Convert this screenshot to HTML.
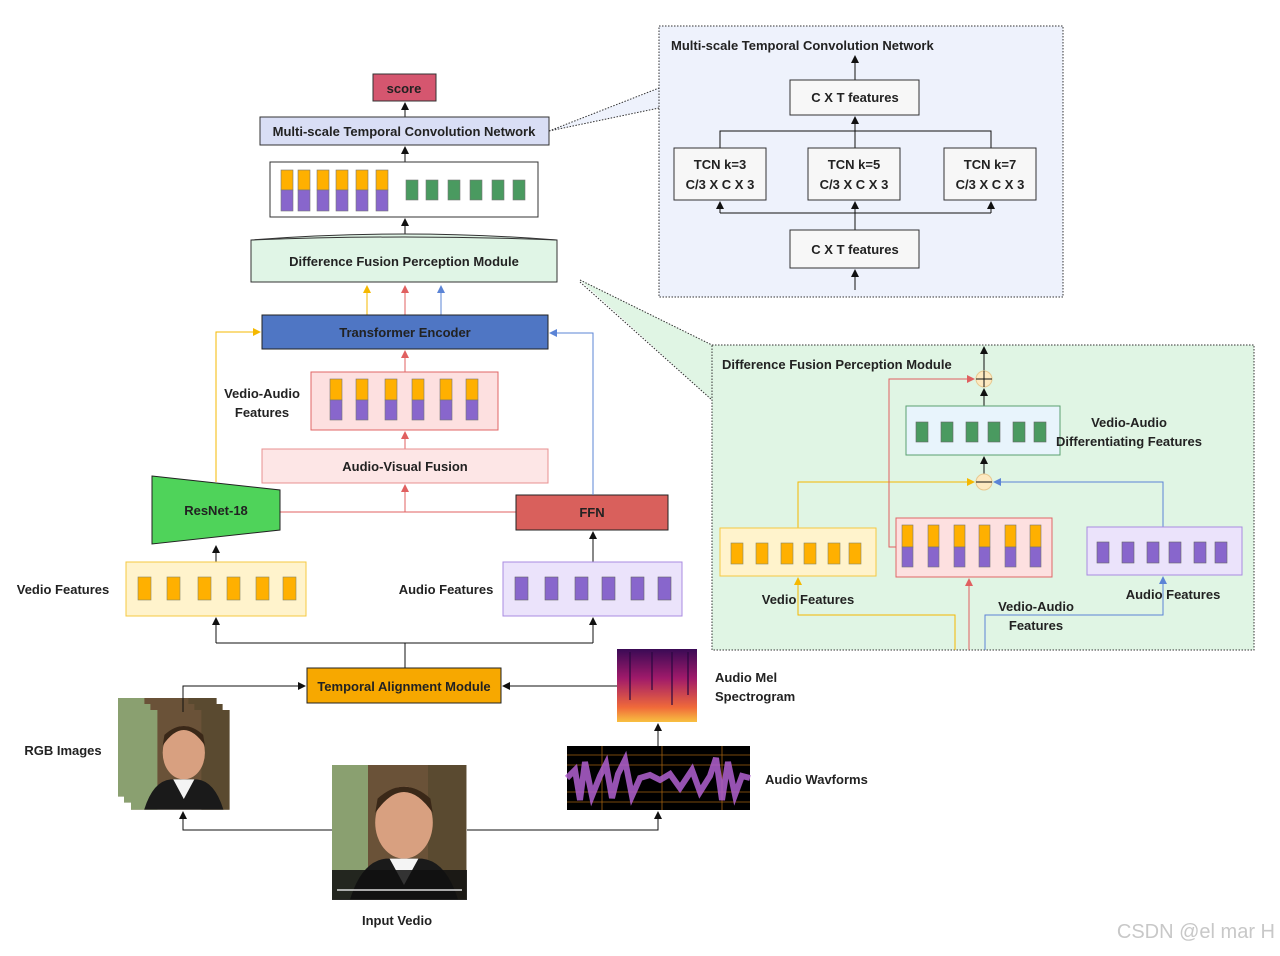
<!DOCTYPE html>
<html><head><meta charset="utf-8"><style>
body{margin:0;background:#fff}
svg text{font-family:"Liberation Sans",sans-serif;font-weight:bold;font-size:13px;fill:#222}
</style></head><body>
<svg width="1280" height="951" viewBox="0 0 1280 951" xmlns="http://www.w3.org/2000/svg">
<defs>
<marker id="ak" markerWidth="8" markerHeight="8" refX="7" refY="4" orient="auto" markerUnits="userSpaceOnUse"><path d="M0,0 L8,4 L0,8 z" fill="#111"/></marker>
<marker id="ay" markerWidth="8" markerHeight="8" refX="7" refY="4" orient="auto" markerUnits="userSpaceOnUse"><path d="M0,0 L8,4 L0,8 z" fill="#f5b800"/></marker>
<marker id="ar" markerWidth="8" markerHeight="8" refX="7" refY="4" orient="auto" markerUnits="userSpaceOnUse"><path d="M0,0 L8,4 L0,8 z" fill="#e06060"/></marker>
<marker id="ab" markerWidth="8" markerHeight="8" refX="7" refY="4" orient="auto" markerUnits="userSpaceOnUse"><path d="M0,0 L8,4 L0,8 z" fill="#5b84d6"/></marker>
<linearGradient id="spec" x1="0" y1="0" x2="0" y2="1"><stop offset="0" stop-color="#3a0a55"/><stop offset="0.4" stop-color="#a01a6a"/><stop offset="0.8" stop-color="#f06a3a"/><stop offset="1" stop-color="#f8c040"/></linearGradient>
<g id="photo">
<rect width="112" height="112" fill="#6a5238"/>
<rect width="30" height="112" fill="#8aa070"/>
<rect x="80" width="32" height="112" fill="#5a4a30"/>
<ellipse cx="60" cy="48" rx="24" ry="30" fill="#d8a080"/>
<path d="M36,40 Q60,5 84,40 L82,28 Q60,8 38,28 z" fill="#3a2818"/>
<path d="M15,112 Q25,80 45,78 L75,78 Q95,80 105,112 z" fill="#1a1a1a"/>
<path d="M48,78 L60,100 L72,78 z" fill="#f4f4f4"/>
</g>
</defs>

<rect x="373" y="74" width="63" height="27" fill="#d5566f" stroke="#333"/>
<text x="404" y="93" text-anchor="middle">score</text>
<line x1="405" y1="117" x2="405" y2="103" stroke="#111" marker-end="url(#ak)"/>
<rect x="260" y="117" width="289" height="28" fill="#d9def5" stroke="#333"/>
<text x="404" y="136" text-anchor="middle">Multi-scale Temporal Convolution Network</text>
<line x1="405" y1="162" x2="405" y2="147" stroke="#111" marker-end="url(#ak)"/>
<rect x="270" y="162" width="268" height="55" fill="#fff" stroke="#333"/>
<g stroke="#777" stroke-width="0.6">
<g fill="#ffb000"><rect x="281" y="170" width="12" height="20"/><rect x="298" y="170" width="12" height="20"/><rect x="317" y="170" width="12" height="20"/><rect x="336" y="170" width="12" height="20"/><rect x="356" y="170" width="12" height="20"/><rect x="376" y="170" width="12" height="20"/></g>
<g fill="#8866cc"><rect x="281" y="190" width="12" height="21"/><rect x="298" y="190" width="12" height="21"/><rect x="317" y="190" width="12" height="21"/><rect x="336" y="190" width="12" height="21"/><rect x="356" y="190" width="12" height="21"/><rect x="376" y="190" width="12" height="21"/></g>
<g fill="#4a9a60"><rect x="406" y="180" width="12" height="20"/><rect x="426" y="180" width="12" height="20"/><rect x="448" y="180" width="12" height="20"/><rect x="470" y="180" width="12" height="20"/><rect x="492" y="180" width="12" height="20"/><rect x="513" y="180" width="12" height="20"/></g>
</g>
<line x1="405" y1="236" x2="405" y2="219" stroke="#111" marker-end="url(#ak)"/>
<path d="M251,240 Q404,228 557,240 L557,282 L251,282 z" fill="#e0f5e6" stroke="#333"/>
<path d="M251,240 Q404,234 557,240" fill="none" stroke="#333"/>
<text x="404" y="266" text-anchor="middle">Difference Fusion Perception Module</text>
<line x1="367" y1="315" x2="367" y2="286" stroke="#f5b800" marker-end="url(#ay)"/>
<line x1="405" y1="315" x2="405" y2="286" stroke="#e06060" marker-end="url(#ar)"/>
<line x1="441" y1="315" x2="441" y2="286" stroke="#5b84d6" marker-end="url(#ab)"/>
<rect x="262" y="315" width="286" height="34" fill="#4f76c4" stroke="#222"/>
<text x="405" y="337" text-anchor="middle">Transformer Encoder</text>
<line x1="405" y1="372" x2="405" y2="351" stroke="#e06060" marker-end="url(#ar)"/>
<text x="262" y="398" text-anchor="middle">Vedio-Audio</text>
<text x="262" y="417" text-anchor="middle">Features</text>
<rect x="311" y="372" width="187" height="58" fill="#fde0e0" stroke="#e06666"/>
<g stroke="#777" stroke-width="0.6">
<g fill="#ffb000"><rect x="330" y="379" width="12" height="21"/><rect x="356" y="379" width="12" height="21"/><rect x="385" y="379" width="12" height="21"/><rect x="412" y="379" width="12" height="21"/><rect x="440" y="379" width="12" height="21"/><rect x="466" y="379" width="12" height="21"/></g>
<g fill="#8866cc"><rect x="330" y="400" width="12" height="20"/><rect x="356" y="400" width="12" height="20"/><rect x="385" y="400" width="12" height="20"/><rect x="412" y="400" width="12" height="20"/><rect x="440" y="400" width="12" height="20"/><rect x="466" y="400" width="12" height="20"/></g>
</g>
<line x1="405" y1="449" x2="405" y2="432" stroke="#e06060" marker-end="url(#ar)"/>
<rect x="262" y="449" width="286" height="34" fill="#fde6e6" stroke="#e89090"/>
<text x="405" y="471" text-anchor="middle">Audio-Visual Fusion</text>
<polyline points="280,512 516,512" fill="none" stroke="#e06060"/>
<line x1="405" y1="512" x2="405" y2="485" stroke="#e06060" marker-end="url(#ar)"/>
<polygon points="152,476 280,490 280,530 152,544" fill="#4fd35a" stroke="#222"/>
<text x="216" y="515" text-anchor="middle">ResNet-18</text>
<rect x="516" y="495" width="152" height="35" fill="#d9605c" stroke="#222"/>
<text x="592" y="517" text-anchor="middle">FFN</text>
<polyline points="216,482 216,332 260,332" fill="none" stroke="#f5b800" marker-end="url(#ay)"/>
<polyline points="593,495 593,333 550,333" fill="none" stroke="#5b84d6" marker-end="url(#ab)"/>
<line x1="216" y1="562" x2="216" y2="546" stroke="#111" marker-end="url(#ak)"/>
<line x1="593" y1="562" x2="593" y2="532" stroke="#111" marker-end="url(#ak)"/>
<text x="63" y="594" text-anchor="middle">Vedio Features</text>
<rect x="126" y="562" width="180" height="54" fill="#fff3cc" stroke="#f5c842"/>
<g fill="#ffb000" stroke="#886" stroke-width="0.6"><rect x="138" y="577" width="13" height="23"/><rect x="167" y="577" width="13" height="23"/><rect x="198" y="577" width="13" height="23"/><rect x="227" y="577" width="13" height="23"/><rect x="256" y="577" width="13" height="23"/><rect x="283" y="577" width="13" height="23"/></g>
<text x="446" y="594" text-anchor="middle">Audio Features</text>
<rect x="503" y="562" width="179" height="54" fill="#ebe3fb" stroke="#a98be0"/>
<g fill="#8866cc" stroke="#666" stroke-width="0.6"><rect x="515" y="577" width="13" height="23"/><rect x="545" y="577" width="13" height="23"/><rect x="575" y="577" width="13" height="23"/><rect x="602" y="577" width="13" height="23"/><rect x="631" y="577" width="13" height="23"/><rect x="658" y="577" width="13" height="23"/></g>
<polyline points="405,668 405,643" fill="none" stroke="#111"/>
<polyline points="216,643 593,643" fill="none" stroke="#111"/>
<line x1="216" y1="643" x2="216" y2="618" stroke="#111" marker-end="url(#ak)"/>
<line x1="593" y1="643" x2="593" y2="618" stroke="#111" marker-end="url(#ak)"/>
<rect x="307" y="668" width="194" height="35" fill="#f7a800" stroke="#222"/>
<text x="404" y="691" text-anchor="middle">Temporal Alignment Module</text>
<!-- RGB images -->
<g transform="translate(118,698) scale(0.88 0.88)"><use href="#photo"/></g>
<g transform="translate(124,704) scale(0.88 0.88)"><use href="#photo"/></g>
<g transform="translate(131,710) scale(0.88 0.89)"><use href="#photo"/></g>
<polyline points="183,712 183,686 305,686" fill="none" stroke="#111" marker-end="url(#ak)"/>
<line x1="617" y1="686" x2="503" y2="686" stroke="#111" marker-end="url(#ak)"/>
<text x="63" y="755" text-anchor="middle">RGB Images</text>
<rect x="617" y="649" width="80" height="73" fill="url(#spec)"/>
<g stroke="#2a0840" stroke-width="2" opacity="0.6"><line x1="630" y1="652" x2="630" y2="700"/><line x1="652" y1="652" x2="652" y2="690"/><line x1="672" y1="652" x2="672" y2="705"/><line x1="688" y1="652" x2="688" y2="695"/></g>
<text x="715" y="682">Audio Mel</text>
<text x="715" y="701">Spectrogram</text>
<line x1="658" y1="746" x2="658" y2="724" stroke="#111" marker-end="url(#ak)"/>
<rect x="567" y="746" width="183" height="64" fill="#000"/>
<g stroke="#a06010" stroke-width="0.8"><line x1="567" y1="755" x2="750" y2="755"/><line x1="567" y1="765" x2="750" y2="765"/><line x1="567" y1="792" x2="750" y2="792"/><line x1="567" y1="802" x2="750" y2="802"/><line x1="602" y1="746" x2="602" y2="810"/><line x1="662" y1="746" x2="662" y2="810"/><line x1="722" y1="746" x2="722" y2="810"/></g>
<path d="M567,778 L575,770 L580,800 L585,762 L592,796 L600,776 L606,764 L612,798 L618,774 L625,760 L632,796 L640,778 L650,775 L660,780 L670,774 L680,788 L692,770 L700,792 L710,776 L716,758 L722,800 L728,762 L735,795 L742,776 L750,778" fill="none" stroke="#b060d0" stroke-width="6" opacity="0.85"/>
<text x="765" y="784">Audio Wavforms</text>
<g transform="translate(332,765) scale(1.2 1.2)"><use href="#photo"/></g>
<rect x="332" y="870" width="135" height="30" fill="#111" opacity="0.85"/>
<line x1="337" y1="890" x2="462" y2="890" stroke="#ddd" stroke-width="1.5"/>
<polyline points="332,830 183,830 183,812" fill="none" stroke="#111" marker-end="url(#ak)"/>
<polyline points="467,830 658,830 658,812" fill="none" stroke="#111" marker-end="url(#ak)"/>
<text x="397" y="925" text-anchor="middle">Input Vedio</text>

<polygon points="549,131 659,88 659,108" fill="#eef2fc"/>
<line x1="549" y1="131" x2="659" y2="88" stroke="#333" stroke-dasharray="1.5,1.5"/>
<line x1="549" y1="131" x2="659" y2="108" stroke="#333" stroke-dasharray="1.5,1.5"/>
<rect x="659" y="26" width="404" height="271" fill="#eef2fc" stroke="#333" stroke-dasharray="1.5,1.5"/>
<text x="671" y="50">Multi-scale Temporal Convolution Network</text>
<line x1="855" y1="80" x2="855" y2="56" stroke="#111" marker-end="url(#ak)"/>
<rect x="790" y="80" width="129" height="35" fill="#f7f7f7" stroke="#333"/>
<text x="855" y="102" text-anchor="middle">C X T features</text>
<polyline points="720,148 720,131 991,131 991,148" fill="none" stroke="#111"/>
<line x1="855" y1="148" x2="855" y2="117" stroke="#111" marker-end="url(#ak)"/>
<rect x="674" y="148" width="92" height="52" fill="#f7f7f7" stroke="#333"/>
<rect x="808" y="148" width="92" height="52" fill="#f7f7f7" stroke="#333"/>
<rect x="944" y="148" width="92" height="52" fill="#f7f7f7" stroke="#333"/>
<text x="720" y="169" text-anchor="middle">TCN k=3</text><text x="720" y="189" text-anchor="middle">C/3 X C X 3</text>
<text x="854" y="169" text-anchor="middle">TCN k=5</text><text x="854" y="189" text-anchor="middle">C/3 X C X 3</text>
<text x="990" y="169" text-anchor="middle">TCN k=7</text><text x="990" y="189" text-anchor="middle">C/3 X C X 3</text>
<line x1="720" y1="213" x2="991" y2="213" stroke="#111"/>
<line x1="720" y1="213" x2="720" y2="202" stroke="#111" marker-end="url(#ak)"/>
<line x1="855" y1="230" x2="855" y2="202" stroke="#111" marker-end="url(#ak)"/>
<line x1="991" y1="213" x2="991" y2="202" stroke="#111" marker-end="url(#ak)"/>
<rect x="790" y="230" width="129" height="38" fill="#f7f7f7" stroke="#333"/>
<text x="855" y="254" text-anchor="middle">C X T features</text>
<line x1="855" y1="290" x2="855" y2="270" stroke="#111" marker-end="url(#ak)"/>

<polygon points="580,280 712,345 712,400" fill="#e0f5e4"/>
<line x1="580" y1="280" x2="712" y2="345" stroke="#333" stroke-dasharray="1.5,1.5"/>
<line x1="580" y1="282" x2="712" y2="400" stroke="#333" stroke-dasharray="1.5,1.5"/>
<rect x="712" y="345" width="542" height="305" fill="#e0f5e4" stroke="#333" stroke-dasharray="1.5,1.5"/>
<text x="722" y="369">Difference Fusion Perception Module</text>
<line x1="984" y1="371" x2="984" y2="347" stroke="#111" marker-end="url(#ak)"/>
<circle cx="984" cy="379" r="8" fill="#fde9c0" stroke="#e8c890"/>
<line x1="976" y1="379" x2="992" y2="379" stroke="#111"/><line x1="984" y1="371" x2="984" y2="387" stroke="#111"/>
<line x1="984" y1="406" x2="984" y2="389" stroke="#111" marker-end="url(#ak)"/>
<rect x="906" y="406" width="154" height="49" fill="#e8f4fc" stroke="#5aa070"/>
<g fill="#4a9a60" stroke="#666" stroke-width="0.6"><rect x="916" y="422" width="12" height="20"/><rect x="941" y="422" width="12" height="20"/><rect x="966" y="422" width="12" height="20"/><rect x="988" y="422" width="12" height="20"/><rect x="1013" y="422" width="12" height="20"/><rect x="1034" y="422" width="12" height="20"/></g>
<text x="1129" y="427" text-anchor="middle">Vedio-Audio</text>
<text x="1129" y="446" text-anchor="middle">Differentiating Features</text>
<line x1="984" y1="474" x2="984" y2="457" stroke="#111" marker-end="url(#ak)"/>
<circle cx="984" cy="482" r="8" fill="#fde9c0" stroke="#e8c890"/>
<line x1="976" y1="482" x2="992" y2="482" stroke="#111"/>
<polyline points="798,528 798,482 974,482" fill="none" stroke="#f5b800" marker-end="url(#ay)"/>
<polyline points="1163,527 1163,482 994,482" fill="none" stroke="#5b84d6" marker-end="url(#ab)"/>
<polyline points="896,547 889,547 889,379 974,379" fill="none" stroke="#e06060" marker-end="url(#ar)"/>
<rect x="720" y="528" width="156" height="48" fill="#fff3cc" stroke="#f5c842"/>
<g fill="#ffb000" stroke="#886" stroke-width="0.6"><rect x="731" y="543" width="12" height="21"/><rect x="756" y="543" width="12" height="21"/><rect x="781" y="543" width="12" height="21"/><rect x="804" y="543" width="12" height="21"/><rect x="828" y="543" width="12" height="21"/><rect x="849" y="543" width="12" height="21"/></g>
<rect x="896" y="518" width="156" height="59" fill="#fde0e0" stroke="#e06666"/>
<g stroke="#777" stroke-width="0.6">
<g fill="#ffb000"><rect x="902" y="525" width="11" height="22"/><rect x="928" y="525" width="11" height="22"/><rect x="954" y="525" width="11" height="22"/><rect x="979" y="525" width="11" height="22"/><rect x="1005" y="525" width="11" height="22"/><rect x="1030" y="525" width="11" height="22"/></g>
<g fill="#8866cc"><rect x="902" y="547" width="11" height="20"/><rect x="928" y="547" width="11" height="20"/><rect x="954" y="547" width="11" height="20"/><rect x="979" y="547" width="11" height="20"/><rect x="1005" y="547" width="11" height="20"/><rect x="1030" y="547" width="11" height="20"/></g>
</g>
<rect x="1087" y="527" width="155" height="48" fill="#ebe3fb" stroke="#a98be0"/>
<g fill="#8866cc" stroke="#666" stroke-width="0.6"><rect x="1097" y="542" width="12" height="21"/><rect x="1122" y="542" width="12" height="21"/><rect x="1147" y="542" width="12" height="21"/><rect x="1169" y="542" width="12" height="21"/><rect x="1194" y="542" width="12" height="21"/><rect x="1215" y="542" width="12" height="21"/></g>
<polyline points="955,650 955,615 798,615 798,578" fill="none" stroke="#f5b800" marker-end="url(#ay)"/>
<line x1="969" y1="650" x2="969" y2="579" stroke="#e06060" marker-end="url(#ar)"/>
<polyline points="985,650 985,615 1163,615 1163,577" fill="none" stroke="#5b84d6" marker-end="url(#ab)"/>
<text x="808" y="604" text-anchor="middle">Vedio Features</text>
<text x="1036" y="611" text-anchor="middle">Vedio-Audio</text>
<text x="1036" y="630" text-anchor="middle">Features</text>
<text x="1173" y="599" text-anchor="middle">Audio Features</text>

<text x="1275" y="938" text-anchor="end" style="font-weight:normal;font-size:20px;fill:#c8c8c8">CSDN @el mar H</text>
</svg>
</body></html>
